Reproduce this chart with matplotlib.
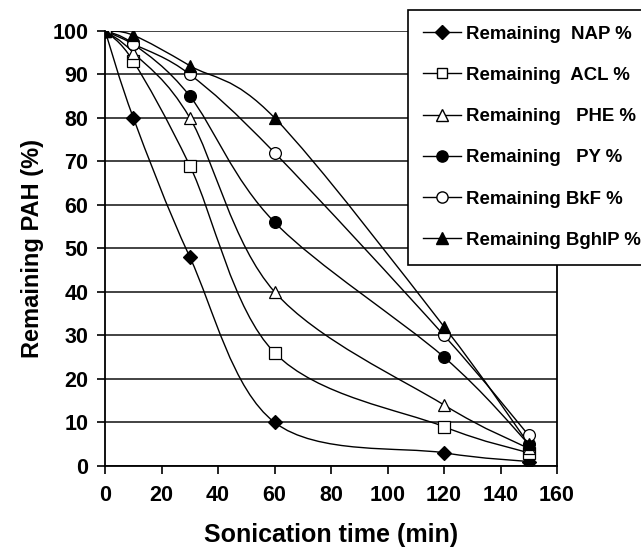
import numpy as np
import matplotlib
matplotlib.use('Agg')
import matplotlib.pyplot as plt
from matplotlib.path import Path
from matplotlib.patches import PathPatch
from matplotlib.lines import Line2D

plt.rcParams['font.family'] = ['Liberation Sans', 'DejaVu Sans']
plt.rcParams['font.weight'] = 'bold'

time_min = [0, 10, 30, 60, 120, 150]
nap = [100, 80, 48, 10, 3, 1]
acl = [100, 93, 69, 26, 9, 3]
phe = [100, 95, 80, 40, 14, 4]
py = [100, 97, 85, 56, 25, 5]
bkf = [100, 97, 90, 72, 30, 7]
bghip = [100, 99, 92, 80, 32, 5]

labels = ['Remaining  NAP %', 'Remaining  ACL %', 'Remaining   PHE %',
          'Remaining   PY %', 'Remaining BkF %', 'Remaining BghIP %']
series = [nap, acl, phe, py, bkf, bghip]
markers = [('D', 'black', 7), ('s', 'white', 8), ('^', 'white', 9),
           ('o', 'black', 8.5), ('o', 'white', 8.5), ('^', 'black', 9)]


def smooth_path(ax, xs, ys):
    # Excel-like smoothed line: cubic bezier with Catmull-Rom control points
    pts = ax.transData.transform(np.column_stack([xs, ys]))
    n = len(pts)
    verts = [pts[0]]
    codes = [Path.MOVETO]
    for i in range(n - 1):
        p0 = pts[max(i - 1, 0)]
        p1 = pts[i]
        p2 = pts[i + 1]
        p3 = pts[min(i + 2, n - 1)]
        c1 = p1 + (p2 - p0) / 6.0
        c2 = p2 - (p3 - p1) / 6.0
        verts += [c1, c2, p2]
        codes += [Path.CURVE4] * 3
    inv = ax.transData.inverted()
    return Path(inv.transform(np.array(verts)), codes)


fig = plt.figure(figsize=(6.41, 5.52), dpi=100)
ax = fig.add_axes([0.164, 0.156, 0.705, 0.788])
ax.set_xlim(0, 160)
ax.set_ylim(0, 100)
fig.canvas.draw()

for ys, (m, fc, ms) in zip(series, markers):
    path = smooth_path(ax, time_min, ys)
    ax.add_patch(PathPatch(path, facecolor='none', edgecolor='black', lw=1.0, zorder=3))
    ax.plot(time_min, ys, linestyle='none', marker=m, markerfacecolor=fc,
            markeredgecolor='black', markersize=ms, markeredgewidth=0.9, zorder=4)

ax.set_xticks(np.arange(0, 161, 20))
ax.set_yticks(np.arange(0, 101, 10))
ax.yaxis.grid(True, color='#222222', lw=1.2)
ax.set_axisbelow(True)
ax.spines['top'].set_visible(False)
for s in ['left', 'bottom', 'right']:
    ax.spines[s].set_linewidth(1.3)
ax.tick_params(axis='both', labelsize=15.5, width=1.2, length=6, direction='out')
ax.tick_params(axis='x', pad=8)
ax.tick_params(axis='y', pad=6)
ax.set_xlabel('Sonication time (min)', fontsize=18, fontweight='bold', labelpad=12)
ax.set_ylabel('Remaining PAH (%)', fontsize=17, fontweight='bold', labelpad=6)

handles = [Line2D([0], [0], color='black', lw=1.0, marker=m, markerfacecolor=fc,
                  markeredgecolor='black', markersize=ms * 0.95)
           for (m, fc, ms) in markers]
leg = fig.legend(handles, labels, loc='upper left', bbox_to_anchor=(0.636, 0.982),
                 prop={'size': 13.4, 'weight': 'bold'}, frameon=True, fancybox=False,
                 edgecolor='black', framealpha=1, handlelength=2.0, handletextpad=0.3,
                 labelspacing=1.3, borderpad=0.85, borderaxespad=0)
leg.get_frame().set_linewidth(1.2)
leg.set_zorder(10)

fig.savefig('out.png', dpi=100)
